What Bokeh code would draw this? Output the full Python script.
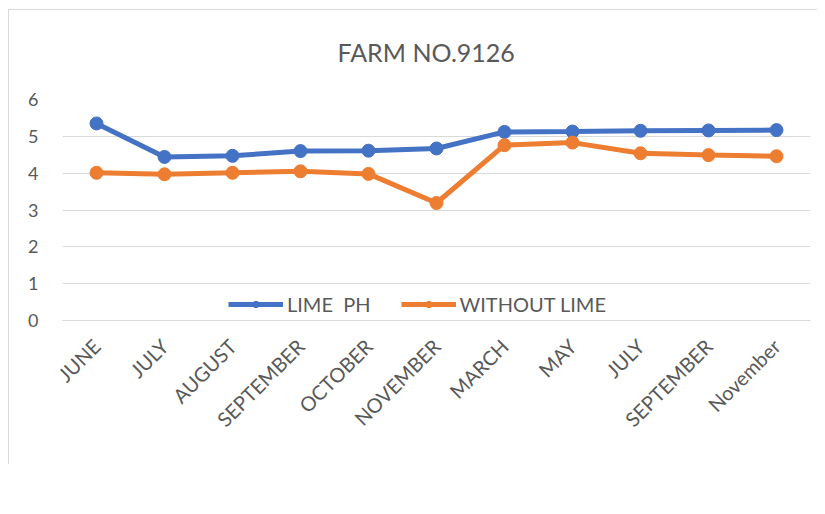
import math
from bokeh.plotting import figure
from bokeh.models import Legend, LegendItem, FixedTicker, Title
from bokeh.embed import file_html
from bokeh.resources import INLINE

title_text = "FARM NO.9126"
months = ["JUNE", "JULY", "AUGUST", "SEPTEMBER", "OCTOBER", "NOVEMBER",
          "MARCH", "MAY", "JULY", "SEPTEMBER", "November"]
lime_ph = [5.35, 4.44, 4.47, 4.60, 4.61, 4.67, 5.12, 5.13, 5.15, 5.16, 5.17]
without_lime = [4.01, 3.97, 4.01, 4.05, 3.98, 3.19, 4.76, 4.83, 4.54, 4.49, 4.46]
y_ticks = [0, 1, 2, 3, 4, 5, 6]
series_names = ["LIME  PH", "WITHOUT LIME"]

FONT = "Lato"
GRAY = "#595959"
xs = list(range(len(months)))

p = figure(frame_width=748, frame_height=221, output_backend="svg", toolbar_location=None,
           x_range=(-0.5, len(months) - 0.5), y_range=(0, 6),
           min_border_left=53, min_border_right=7, min_border_top=89,
           min_border_bottom=144)
p.styles = {"border-left": "1px solid #d9d9d9", "border-top": "1px solid #d9d9d9",
            "margin-left": "8px", "margin-top": "9px"}

p.title.text = title_text
p.title.align = "left"
p.title.offset = 275
p.title.text_font = FONT
p.title.text_font_size = "25px"
p.title.text_font_style = "normal"
p.title.text_color = GRAY
p.title.standoff = 0

spacer = Title(text=" ", text_font_size="28px", standoff=0, text_color="white")
p.add_layout(spacer, "above")

p.outline_line_color = None
p.xgrid.grid_line_color = None
p.ygrid.grid_line_color = "#d9d9d9"
p.ygrid.grid_line_width = 1

p.yaxis.ticker = FixedTicker(ticks=y_ticks)
p.yaxis.axis_line_color = None
p.yaxis.major_tick_line_color = None
p.yaxis.minor_tick_line_color = None
p.yaxis.major_label_text_font = FONT
p.yaxis.major_label_text_font_size = "18px"
p.yaxis.major_label_text_color = GRAY
p.yaxis.major_label_standoff = 18

p.xaxis.ticker = FixedTicker(ticks=xs)
p.xaxis.major_label_overrides = {i: m for i, m in enumerate(months)}
p.xaxis.axis_line_color = "#d9d9d9"
p.xaxis.major_tick_line_color = None
p.xaxis.minor_tick_line_color = None
p.xaxis.major_label_orientation = math.pi / 4
p.xaxis.major_label_text_font = FONT
p.xaxis.major_label_text_font_size = "20px"
p.xaxis.major_label_text_color = GRAY
p.xaxis.major_label_standoff = 16

colors = ["#4472C4", "#ED7D31"]
items = []
for name, vals, c in zip(series_names, [lime_ph, without_lime], colors):
    l = p.line(xs, vals, line_color=c, line_width=5)
    s = p.scatter(xs, vals, marker="circle", size=13, fill_color=c, line_color=c)
    items.append(LegendItem(label=name, renderers=[l, s]))

legend = Legend(items=items, orientation="horizontal", location=(166, 4),
                label_text_font=FONT, label_text_font_size="20px",
                label_text_color=GRAY, glyph_width=55, glyph_height=16,
                spacing=30, border_line_color=None, background_fill_color="white",
                background_fill_alpha=1, margin=0, padding=5, label_standoff=4)
p.add_layout(legend, "center")

open("out.html", "w").write(file_html(p, INLINE))
